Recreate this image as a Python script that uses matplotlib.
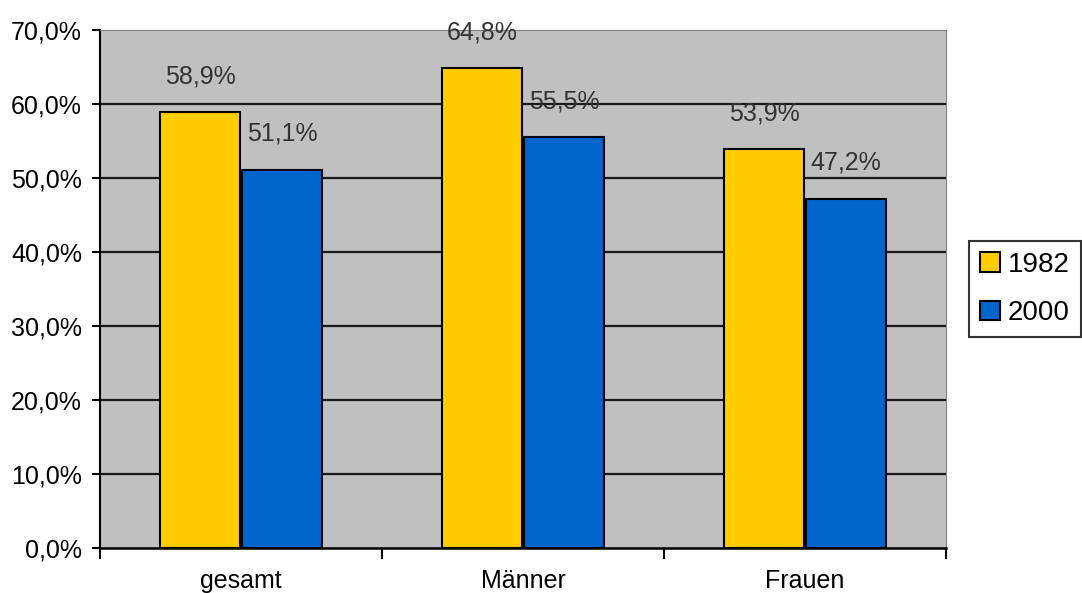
import matplotlib
matplotlib.use("Agg")
import matplotlib.pyplot as plt
import numpy as np
from matplotlib.ticker import FixedLocator

categories = ["gesamt", "Männer", "Frauen"]
years = ["1982", "2000"]
values_1982 = [58.9, 64.8, 53.9]
values_2000 = [51.1, 55.5, 47.2]
yticks = [0, 10, 20, 30, 40, 50, 60, 70]

plt.rcParams['font.family'] = ['Liberation Sans', 'DejaVu Sans']

fig = plt.figure(figsize=(10.82, 5.93), dpi=100)
ax = fig.add_axes([100/1082, 45/593, 846/1082, 518/593])
ax.set_facecolor('#C0C0C0')

x = np.arange(len(categories))
w = 0.285
off = 0.145
colors = ['#FFCC00', '#0066CC']
b1 = ax.bar(x - off, values_1982, w, color=colors[0], edgecolor='black', linewidth=1.5, zorder=3, label=years[0])
b2 = ax.bar(x + off, values_2000, w, color=colors[1], edgecolor='black', linewidth=1.5, zorder=3, label=years[1])

for bars, vals in ((b1, values_1982), (b2, values_2000)):
    for r, v in zip(bars, vals):
        ax.annotate(f"{v:.1f}%".replace('.', ','), (r.get_x() + r.get_width()/2, v),
                    xytext=(0, 26), textcoords='offset points', ha='center', va='center',
                    fontsize=18, color='#333333', zorder=4)

ax.set_ylim(0, 70)
ax.set_xlim(-0.5, 2.5)
ax.set_yticks(yticks)
ax.set_yticklabels([f"{t:.1f}%".replace('.', ',') for t in yticks], fontsize=18)
for t in yticks[1:-1]:
    ax.axhline(t, color='#1a1a1a', linewidth=1.6, zorder=1)

ax.set_xticks(x)
ax.set_xticklabels(categories, fontsize=18)
ax.tick_params(axis='x', which='major', length=0, pad=15)
ax.xaxis.set_minor_locator(FixedLocator([-0.5, 0.5, 1.5, 2.5]))
ax.tick_params(axis='x', which='minor', length=8, width=1.5, direction='out')
ax.tick_params(axis='y', length=6, width=1.5, direction='out', pad=7)

ax.spines['left'].set_linewidth(1.5)
ax.spines['bottom'].set_linewidth(1.8)
ax.spines['top'].set_color('#808080')
ax.spines['right'].set_color('#808080')

leg = fig.legend(handles=[b1, b2], labels=years, loc='center left',
                 bbox_to_anchor=(969/1082, 1 - 289/593), fontsize=20,
                 frameon=True, fancybox=False, edgecolor='black',
                 handlelength=0.7, handleheight=0.7, handletextpad=0.3,
                 labelspacing=0.8, borderpad=0.4, borderaxespad=0)
leg.get_frame().set_linewidth(1.5)

fig.savefig("out.png", dpi=100, facecolor='white')
